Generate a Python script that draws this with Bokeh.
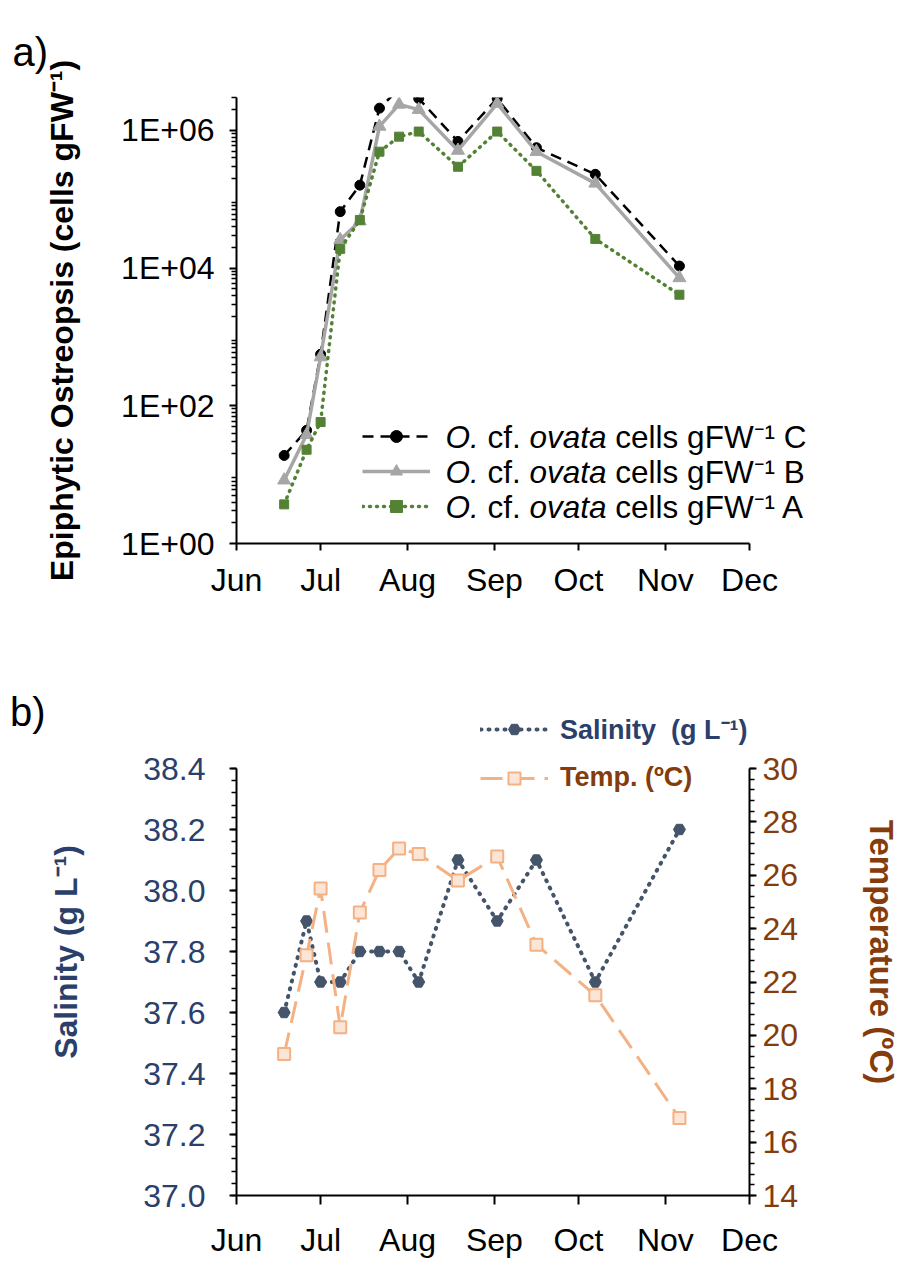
import pandas as pd
from bokeh.plotting import figure
from bokeh.models import (Range1d, LinearAxis, FixedTicker, CustomJSTickFormatter,
                          DatetimeTickFormatter, Legend, LegendItem, NumeralTickFormatter,
                          Label)
from bokeh.layouts import column
from bokeh.embed import file_html
from bokeh.resources import INLINE

# ---------------- data ----------------
dates = ["2018-06-18", "2018-06-26", "2018-07-01", "2018-07-08", "2018-07-15",
         "2018-07-22", "2018-07-29", "2018-08-05", "2018-08-19", "2018-09-02",
         "2018-09-16", "2018-10-07", "2018-11-06"]
cells_C = [19, 44, 560, 66000, 160000, 2.1e6, 4.0e6, 2.9e6, 690000, 2.9e6, 560000, 230000, 10700]
cells_B = [8.3, 38, 510, 25700, 48000, 1.14e6, 2.38e6, 2.0e6, 510000, 2.45e6, 490000, 170000, 7200]
cells_A = [3.7, 23, 58, 19000, 50000, 490000, 810000, 960000, 296000, 960000, 258000, 26500, 4100]
salinity = [37.6, 37.9, 37.7, 37.7, 37.8, 37.8, 37.8, 37.7, 38.1, 37.9, 38.1, 37.7, 38.2]
temperature = [19.3, 23.0, 25.5, 20.3, 24.6, 26.2, 27.0, 26.8, 25.8, 26.7, 23.4, 21.5, 16.9]
series_names = ["C", "B", "A"]
month_ticks = ["2018-06-01", "2018-07-01", "2018-08-01", "2018-09-01",
               "2018-10-01", "2018-11-01", "2018-12-01"]
log_ticks = [1, 1e2, 1e4, 1e6]
sal_ticks = [37.0, 37.2, 37.4, 37.6, 37.8, 38.0, 38.2, 38.4]
temp_ticks = [14, 16, 18, 20, 22, 24, 26, 28, 30]

x = pd.to_datetime(dates)
mt = pd.to_datetime(month_ticks)
mt_ms = [int(t.value // 10**6) for t in mt]
x0, x1 = mt[0], mt[-1]
span_days = (x1 - x0).days

FONT = "'Liberation Sans', Arial, sans-serif"
NAVY = "#2B3F6B"
BROWN = "#843C0C"
TICK = "32px"
ATITLE = "32px"

fmt_month = DatetimeTickFormatter(months="%b", days="%b", hours="%b", minutes="%b",
                                  years="%b", milliseconds="%b", seconds="%b",
                                  minsec="%b", hourmin="%b")

# layout geometry (pixels)
FRAME_L = 236
FRAME_W = 513          # Jun 1 .. Dec 1
P1_FRAME_W = 576       # panel a frame extended to the right (room for legend text)
P1_TOP, P1_H = 97, 446
P1_CANVAS_H = 620
P2_TOP, P2_H = 88, 487  # panel b frame extended upward (room for legend)
P2_CANVAS_H = 655
W = 906


def style_axis(ax, color="black"):
    ax.axis_line_width = 2
    ax.axis_line_color = "black"
    ax.major_tick_line_width = 2
    ax.major_tick_line_color = "black"
    ax.major_tick_in = 0
    ax.major_tick_out = 7
    ax.minor_tick_in = 0
    ax.minor_tick_out = 5
    ax.minor_tick_line_width = 1.5
    ax.minor_tick_line_color = "black"
    ax.major_label_text_font = FONT
    ax.major_label_text_font_size = TICK
    ax.major_label_text_color = color
    ax.axis_label_text_font = FONT
    ax.axis_label_text_font_size = ATITLE
    ax.axis_label_text_font_style = "bold"
    ax.axis_label_text_color = color


# ---------------- panel a ----------------
x_end_a = x0 + pd.Timedelta(days=span_days * P1_FRAME_W / FRAME_W)
p1 = figure(frame_width=P1_FRAME_W, frame_height=P1_H, x_axis_type="datetime",
            y_axis_type="log", x_range=Range1d(x0, x_end_a), y_range=Range1d(1, 3e6),
            output_backend="svg", toolbar_location=None,
            min_border_left=FRAME_L, min_border_right=W - FRAME_L - P1_FRAME_W,
            min_border_top=P1_TOP, min_border_bottom=P1_CANVAS_H - P1_TOP - P1_H)
p1.outline_line_color = None
p1.xgrid.visible = False
p1.ygrid.visible = False
p1.title.text = "a)"
p1.title.text_font = FONT
p1.title.text_font_size = "40px"
p1.title.text_font_style = "normal"
p1.title.text_color = "black"
p1.title.align = "left"
p1.title.offset = -224
p1.title.standoff = 48

lC = p1.line(x, cells_C, line_color="black", line_width=2.5, line_dash="11 7")
sC = p1.scatter(x, cells_C, marker="circle", size=10, color="black")
lB = p1.line(x, cells_B, line_color="#A6A6A6", line_width=3.5)
sB = p1.scatter(x, cells_B, marker="triangle", size=13, color="#A6A6A6")
lA = p1.line(x, cells_A, line_color="#548235", line_width=3.5, line_dash="1 6", line_cap="round")
sA = p1.scatter(x, cells_A, marker="square", size=9, color="#548235")

style_axis(p1.xaxis[0])
style_axis(p1.yaxis[0])
p1.xaxis.ticker = FixedTicker(ticks=mt_ms)
p1.xaxis.formatter = fmt_month
p1.xaxis.bounds = (x0, x1)
p1.xaxis.minor_tick_line_color = None
p1.xaxis.major_label_standoff = 11
p1.yaxis.ticker = FixedTicker(ticks=log_ticks,
                              minor_ticks=[m * 10 ** k for k in range(0, 7) for m in range(2, 10)])
p1.yaxis.formatter = CustomJSTickFormatter(
    code="const e = Math.round(Math.log10(tick)); return '1E+' + (e < 10 ? '0' : '') + e;")
p1.yaxis.major_label_standoff = 15
p1.yaxis.axis_label = "Epiphytic Ostreopsis (cells gFW\u207b\u00b9)"
p1.yaxis.axis_label_standoff = 38

# legend: glyph samples from the Legend, text as mixed-style labels
leg1 = Legend(items=[
    LegendItem(label=" ", renderers=[lC, sC]),
    LegendItem(label=" ", renderers=[lB, sB]),
    LegendItem(label=" ", renderers=[lA, sA]),
], location=(126, 22))
leg1.glyph_width = 68
leg1.glyph_height = 30
leg1.label_height = 30
leg1.label_standoff = 4
leg1.spacing = 5
leg1.padding = 0
leg1.margin = 0
leg1.border_line_color = None
leg1.background_fill_alpha = 0
leg1.label_text_font = FONT
leg1.label_text_font_size = "10px"
p1.add_layout(leg1)

LEG_FS = 31.5
# (text, style, offset in em from the start of the row)
segments = [("O.", "italic", 0.0), ("cf.", "normal", 1.334),
            ("ovata", "italic", 2.668), ("cells gFW\u207b\u00b9", "normal", 5.392)]
row_y = [107, 72, 37]
for name, ry in zip(series_names, row_y):
    for txt, style, em in segments:
        full = txt + " " + name if txt.startswith("cells") else txt
        p1.add_layout(Label(x=209 + em * LEG_FS, y=ry, x_units="screen", y_units="screen",
                            text=full, text_font=FONT, text_font_size=f"{LEG_FS}px",
                            text_font_style=style, text_baseline="middle",
                            text_align="left", text_color="black"))

# ---------------- panel b ----------------
sal_top = 37.0 + (38.4 - 37.0) * P2_H / 427
temp_top = 14 + (30 - 14) * P2_H / 427
p2 = figure(frame_width=FRAME_W, frame_height=P2_H, x_axis_type="datetime",
            x_range=Range1d(x0, x1), y_range=Range1d(37.0, sal_top),
            output_backend="svg", toolbar_location=None,
            min_border_left=FRAME_L, min_border_right=W - FRAME_L - FRAME_W,
            min_border_top=P2_TOP, min_border_bottom=P2_CANVAS_H - P2_TOP - P2_H)
p2.outline_line_color = None
p2.xgrid.visible = False
p2.ygrid.visible = False
p2.extra_y_ranges = {"temp": Range1d(14, temp_top)}

lS = p2.line(x, salinity, line_color="#44546A", line_width=4, line_dash="1 7", line_cap="round")
sS = p2.scatter(x, salinity, marker="hex", size=12, color="#44546A")
lT = p2.line(x, temperature, y_range_name="temp", line_color="#F4B183", line_width=3,
             line_dash="22 10")
sT = p2.scatter(x, temperature, y_range_name="temp", marker="square", size=12,
                fill_color="#FBE5D6", line_color="#F4B183", line_width=2)

style_axis(p2.xaxis[0])
style_axis(p2.yaxis[0], NAVY)
p2.xaxis.ticker = FixedTicker(ticks=mt_ms)
p2.xaxis.formatter = fmt_month
p2.xaxis.minor_tick_line_color = None
p2.xaxis.major_tick_out = 9
p2.xaxis.major_label_standoff = 17
p2.yaxis.ticker = FixedTicker(ticks=sal_ticks,
                              minor_ticks=[round(37.0 + 0.04 * i, 2) for i in range(36)])
p2.yaxis.formatter = NumeralTickFormatter(format="0.0")
p2.yaxis.bounds = (37.0, 38.4)
p2.yaxis.major_label_standoff = 24
p2.yaxis.axis_label = "Salinity (g L\u207b\u00b9)"
p2.yaxis.axis_label_standoff = 56

rax = LinearAxis(y_range_name="temp")
style_axis(rax, BROWN)
rax.ticker = FixedTicker(ticks=temp_ticks, minor_ticks=[round(14 + 0.4 * i, 1) for i in range(41)])
rax.bounds = (14, 30)
rax.major_label_standoff = 6
rax.axis_label = "Temperature (\u00baC)"
rax.axis_label_text_font_size = "33px"
rax.axis_label_standoff = 62
p2.add_layout(rax, "right")

# panel tag "b)": a single tick label of a bare outer axis, placed near the top
tag = LinearAxis(ticker=FixedTicker(ticks=[38.585]),
                 formatter=CustomJSTickFormatter(code="return 'b)';"))
tag.axis_line_color = None
tag.major_tick_line_color = None
tag.minor_tick_line_color = None
tag.major_tick_out = 0
tag.major_label_standoff = 0
tag.major_label_text_font = FONT
tag.major_label_text_font_size = "40px"
tag.major_label_text_color = "black"
p2.add_layout(tag, "left")


def small_legend(label, rends, color, loc):
    lg = Legend(items=[LegendItem(label=label, renderers=rends)], location=loc)
    lg.glyph_width = 68
    lg.glyph_height = 30
    lg.label_height = 30
    lg.label_standoff = 12
    lg.padding = 0
    lg.margin = 0
    lg.border_line_color = None
    lg.background_fill_alpha = 0
    lg.label_text_font = FONT
    lg.label_text_font_size = "27px"
    lg.label_text_font_style = "bold"
    lg.label_text_color = color
    return lg


p2.add_layout(small_legend("Salinity  (g L\u207b\u00b9)", [lS, sS], NAVY, (244, 448)))
p2.add_layout(small_legend("Temp. (\u00baC)", [lT, sT], BROWN, (244, 402)))

layout = column(p1, p2, spacing=0)
open("out.html", "w").write(file_html(layout, INLINE))
